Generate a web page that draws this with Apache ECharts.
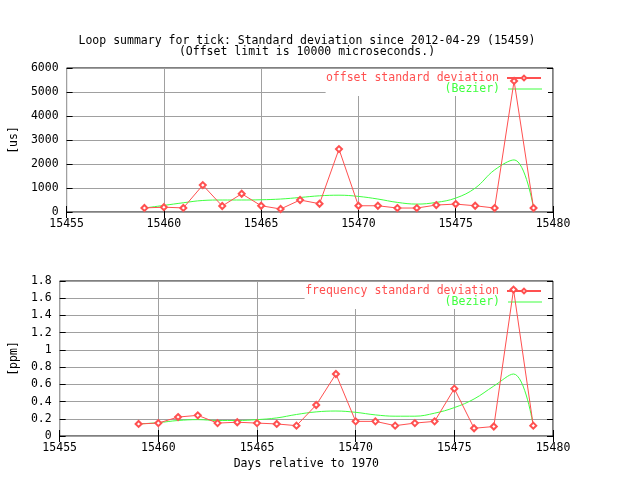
<!DOCTYPE html>
<html><head><meta charset="utf-8">
<script src="https://cdn.jsdelivr.net/npm/echarts@6/dist/echarts.min.js"></script>
<style>html,body{margin:0;padding:0;background:#fff}#c{width:640px;height:480px}</style>
</head><body><div id="c"></div>
<script>
var days = [15459,15460,15461,15462,15463,15464,15465,15466,15467,15468,15469,15470,15471,15472,15473,15474,15475,15476,15477,15478,15479];
var offsetStd = [170,200,170,1120,250,760,260,125,500,345,2620,260,260,165,165,290,330,260,165,5460,165];
var offsetBezier = [165,275,385,480,500,500,510,540,605,675,700,650,540,400,330,400,580,995,1755,2170,165];
var freqStd = [0.14,0.15,0.22,0.24,0.15,0.16,0.15,0.14,0.12,0.36,0.72,0.17,0.17,0.12,0.15,0.17,0.55,0.09,0.11,1.70,0.12];
var freqBezier = [0.14,0.155,0.18,0.19,0.18,0.18,0.19,0.21,0.25,0.28,0.29,0.275,0.245,0.23,0.23,0.265,0.33,0.43,0.58,0.72,0.12];
var xTicks = [15455,15480,5];
var offTicks = [0,6000,1000];
var freqTicks = [0,1.8,0.2];

var FONT = 'DejaVu Sans Mono';
var FS = 11.5;
var RED = '#ff5050', GREEN = '#40ff40', GRID = '#a0a0a0';
function pairs(xs, ys){ return xs.map(function(x,i){return [x, ys[i]];}); }

var chart = echarts.init(document.getElementById('c'), null, {renderer:'canvas'});
function xAxis(gi, name, mirror){
  return {
    type:'value', gridIndex:gi, min:xTicks[0], max:xTicks[1], interval:xTicks[2],
    position: mirror ? 'top' : 'bottom',
    name: mirror ? '' : name, nameLocation:'middle', nameGap:22,
    nameTextStyle:{fontFamily:FONT, fontSize:FS, color:'#000'},
    axisLine:{show:false},
    axisTick:{show:true, inside:true, length:6, lineStyle:{color:'#000'}},
    axisLabel:{show:!mirror, fontFamily:FONT, fontSize:FS, color:'#000', margin:6, formatter:function(v){return String(v);}},
    splitLine:{show:!mirror, lineStyle:{color:GRID, width:1}}
  };
}
function yAxis(gi, t, name, mirror){
  return {
    type:'value', gridIndex:gi, min:t[0], max:t[1], interval:t[2],
    position: mirror ? 'right' : 'left',
    name: mirror ? '' : name, nameLocation:'middle', nameGap:38, nameRotate:90,
    nameTextStyle:{fontFamily:FONT, fontSize:FS, color:'#000'},
    axisLine:{show:false},
    axisTick:{show:true, inside:true, length:6, lineStyle:{color:'#000'}},
    axisLabel:{show:!mirror, fontFamily:FONT, fontSize:FS, color:'#000', margin:8,
      formatter:function(v){return String(Math.round(v*10)/10);}},
    splitLine:{show:!mirror, lineStyle:{color:GRID, width:1}}
  };
}
function legend(top, name, color, pad, isBez){
  var l = {
    top:top, right:92, orient:'horizontal', align:'right', z:1,
    itemWidth:34, itemHeight: isBez ? 1 : 6, itemGap:0, padding:pad,
    backgroundColor:'#fff',
    selectedMode:false,
    textStyle:{fontFamily:FONT, fontSize:FS, color:color, padding:[0,3,0,0]},
    data:[isBez ? {name:name, icon:'rect'} : name]
  };
  if (isBez) l.formatter = function(){ return '(Bezier)'; };
  return l;
}
var option = {
  backgroundColor:'#fff',
  animation:false,
  title:{
    text:'Loop summary for tick: Standard deviation since 2012-04-29 (15459)\n(Offset limit is 10000 microseconds.)',
    left:302, top:31, textAlign:'center',
    textStyle:{fontFamily:FONT, fontSize:FS, fontWeight:'normal', color:'#000', lineHeight:11}
  },
  grid:[
    {left:56, right:87, top:68, height:144, show:true, borderColor:'#000', borderWidth:1, backgroundColor:'transparent', z:0},
    {left:56, right:87, top:281, height:155, show:true, borderColor:'#000', borderWidth:1, backgroundColor:'transparent', z:0}
  ],
  legend:[
    legend(69, 'offset standard deviation', RED, [3,6,0,0], false),
    legend(83, 'offset (Bezier)', GREEN, [0,6,1,119], true),
    legend(282, 'frequency standard deviation', RED, [3,6,0,0], false),
    legend(296, 'frequency (Bezier)', GREEN, [0,6,1,140], true)
  ],
  xAxis:[xAxis(0,'',false), xAxis(0,'',true), xAxis(1,'Days relative to 1970',false), xAxis(1,'',true)],
  yAxis:[yAxis(0,offTicks,'[us]',false), yAxis(0,offTicks,'',true), yAxis(1,freqTicks,'[ppm]',false), yAxis(1,freqTicks,'',true)],
  series:[
    {name:'offset standard deviation', type:'line', xAxisIndex:0, yAxisIndex:0, data:pairs(days, offsetStd),
     symbol:'emptyDiamond', symbolSize:6, lineStyle:{color:RED, width:1}, itemStyle:{color:RED, borderWidth:1}, z:4},
    {name:'offset (Bezier)', type:'line', xAxisIndex:0, yAxisIndex:0, data:pairs(days, offsetBezier),
     symbol:'none', smooth:0.4, lineStyle:{color:GREEN, width:1}, itemStyle:{color:GREEN}, z:3},
    {name:'frequency standard deviation', type:'line', xAxisIndex:2, yAxisIndex:2, data:pairs(days, freqStd),
     symbol:'emptyDiamond', symbolSize:6, lineStyle:{color:RED, width:1}, itemStyle:{color:RED, borderWidth:1}, z:4},
    {name:'frequency (Bezier)', type:'line', xAxisIndex:2, yAxisIndex:2, data:pairs(days, freqBezier),
     symbol:'none', smooth:0.4, lineStyle:{color:GREEN, width:1}, itemStyle:{color:GREEN}, z:3}
  ]
};
chart.setOption(option);
</script></body></html>
